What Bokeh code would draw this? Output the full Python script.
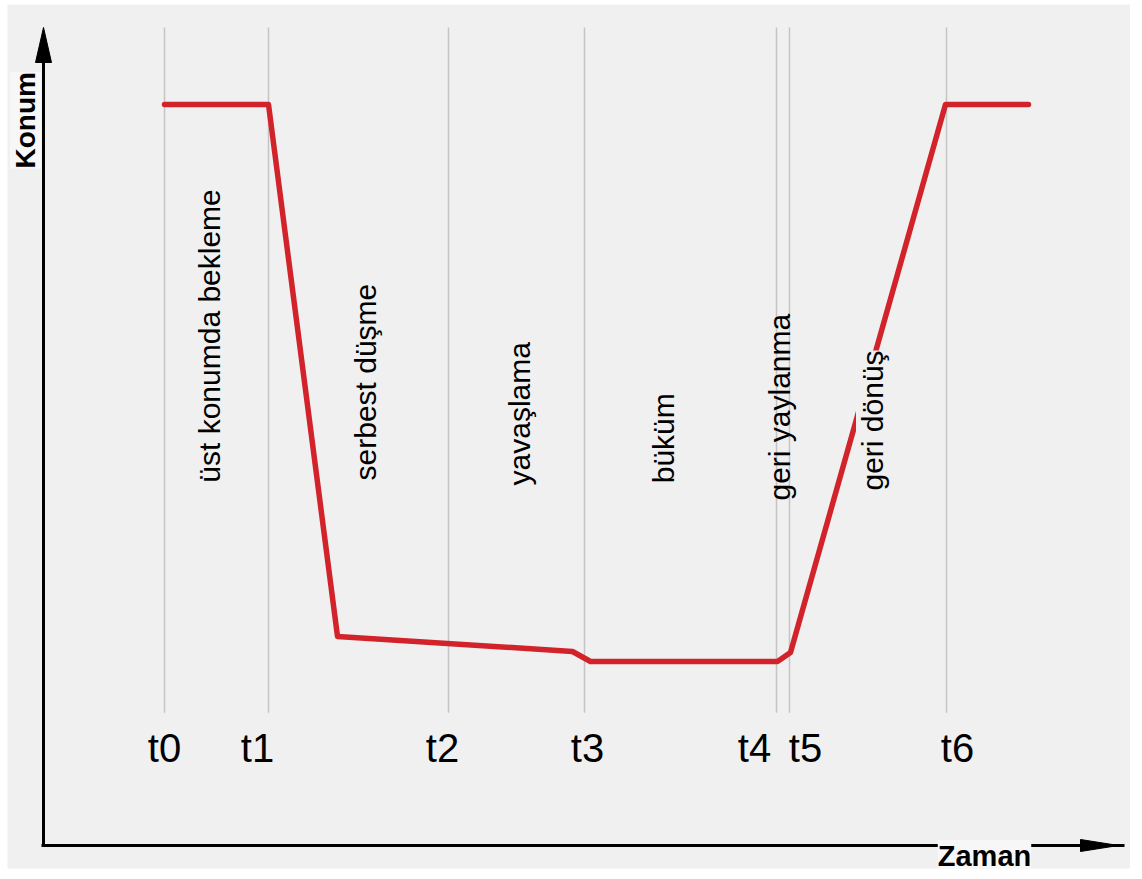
import math
from bokeh.plotting import figure
from bokeh.models import ColumnDataSource, Label, Range1d
from bokeh.core.properties import value
from bokeh.embed import file_html
from bokeh.resources import INLINE

# ---- data (time units, position in % of stroke) ----
t_names = ["t0", "t1", "t2", "t3", "t4", "t5", "t6"]
t_values = [0.0, 1.04, 2.84, 4.20, 6.12, 6.25, 7.82]
t_label_x = [0.0, 0.93, 2.78, 4.23, 5.90, 6.41, 7.93]

curve_time = [0.0, 1.04, 1.73, 4.08, 4.26, 6.13, 6.26, 7.81, 8.64]
curve_pos = [100.0, 100.0, 4.5, 1.8, 0.0, 0.0, 1.6, 100.0, 100.0]

phase_names = ["üst konumda bekleme", "serbest düşme", "yavaşlama",
               "büküm", "geri yaylanma", "geri dönüş"]
phase_x = [0.45, 2.01, 3.55, 4.99, 6.15, 7.08]
phase_y = [32.1, 32.5, 31.6, 32.0, 28.9, 30.7]
phase_bg = [None, None, None, None, None, "#f0f0f0"]

# ---- frame ----
X0, X1 = -1.57, 9.66
Y0, Y1 = -37.16, 117.95
ML, MT, MB = 7, 4, 3
W, H = 1130, 871
px_x = (X1 - X0) / (W - ML)
px_y = (Y1 - Y0) / (H - MT - MB)

BG = "#f0f0f0"
p = figure(width=W, height=H, x_range=Range1d(X0, X1), y_range=Range1d(Y0, Y1),
           x_axis_type=None, y_axis_type=None, toolbar_location=None,
           output_backend="svg", min_border_left=ML, min_border_top=MT,
           min_border_bottom=MB, min_border_right=0, outline_line_color=None,
           background_fill_color=BG, border_fill_color="white")

# vertical time markers
grid_top, grid_bottom = 113.8, -9.2
src_t = ColumnDataSource(dict(x=t_values, y0=[grid_bottom] * len(t_values),
                              y1=[grid_top] * len(t_values)))
p.segment(x0="x", y0="y0", x1="x", y1="y1", source=src_t,
          line_color="#c4c4c4", line_width=1.5)

# position curve
p.line(curve_time, curve_pos, line_color="#d2232a", line_width=5.5,
       line_join="round", line_cap="round")

# axes with arrows
ax_x = -1.21
ax_y = -33.03
x_tip = 9.60
y_tip = 113.82
p.segment(x0=[ax_x], y0=[ax_y], x1=[ax_x], y1=[y_tip - 20 * px_y],
          line_color="black", line_width=3)
p.segment(x0=[ax_x - 2 * px_x], y0=[ax_y], x1=[x_tip], y1=[ax_y],
          line_color="black", line_width=3)
p.patch([ax_x - 8 * px_x, ax_x, ax_x + 8 * px_x],
        [y_tip - 35 * px_y, y_tip, y_tip - 35 * px_y],
        fill_color="black", line_color="black", line_width=1)
p.patch([x_tip - 44 * px_x, x_tip - 6 * px_x, x_tip - 44 * px_x],
        [ax_y + 6 * px_y, ax_y, ax_y - 6 * px_y],
        fill_color="black", line_color="black", line_width=1)

# tick names
src_lab = ColumnDataSource(dict(x=t_label_x, y=[-15.6] * len(t_names), text=t_names))
p.text(x="x", y="y", text="text", source=src_lab, text_font=value("Liberation Sans"),
       text_font_size="40px", text_align="center", text_baseline="alphabetic",
       text_color="black")

# phase labels (vertical)
for name, x, y, bg in zip(phase_names, phase_x, phase_y, phase_bg):
    lab = Label(x=x, y=y, text=name, angle=math.pi / 2, text_font="Liberation Sans",
                text_font_size="30px", text_align="left", text_baseline="alphabetic",
                text_color="black")
    if bg:
        lab.background_fill_color = bg
    p.add_layout(lab)

# axis titles
p.add_layout(Label(x=-1.39, y=88.5, text="Konum", angle=math.pi / 2,
                   text_font="Liberation Sans", text_font_style="bold",
                   text_font_size="28px", text_align="left",
                   text_baseline="alphabetic", text_color="black",
                   background_fill_color="#f7f7f7"))
p.add_layout(Label(x=8.20, y=-34.9, text="Zaman",
                   text_font="Liberation Sans", text_font_style="bold",
                   text_font_size="29px", text_align="center",
                   text_baseline="alphabetic", text_color="black",
                   background_fill_color="#f7f7f7"))

open("out.html", "w").write(file_html(p, INLINE))
